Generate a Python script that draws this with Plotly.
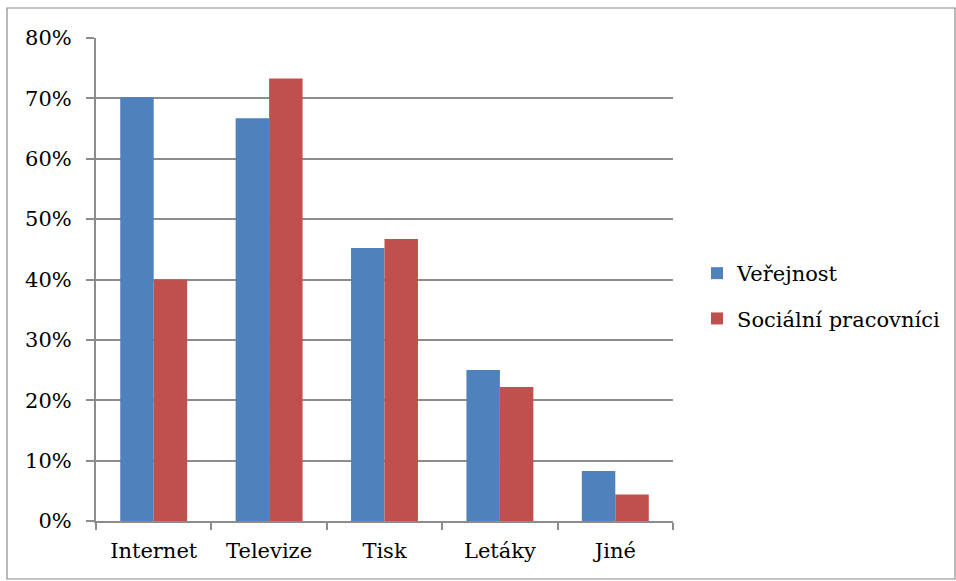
import plotly.graph_objects as go

# Survey answers: where respondents learn about the topic (share of respondents)
categories = ["Internet", "Televize", "Tisk", "Letáky", "Jiné"]
verejnost = [0.702, 0.667, 0.452, 0.250, 0.083]
socialni_pracovnici = [0.400, 0.733, 0.467, 0.222, 0.044]
y_ticks = [0, 0.1, 0.2, 0.3, 0.4, 0.5, 0.6, 0.7, 0.8]
y_tick_labels = ["0%", "10%", "20%", "30%", "40%", "50%", "60%", "70%", "80%"]

W, H = 956, 581
L, R, T, B = 96, 673, 38, 521  # plot area in pixels
GRID = "#8c8c8c"
FONT = dict(family="DejaVu Serif", size=21, color="black")

fig = go.Figure()
fig.add_bar(x=categories, y=verejnost, name="Veřejnost", legendgroup="a",
            marker=dict(color="#4F81BD", line=dict(width=0)))
fig.add_bar(x=categories, y=socialni_pracovnici, name="Sociální pracovníci",
            legendgroup="b", marker=dict(color="#C0504D", line=dict(width=0)))


def px_x(px):
    return (px - L) / (R - L)


def px_y(py):
    return (B - py) / (B - T)


# outer chart border
fig.add_shape(type="rect", xref="paper", yref="paper",
              x0=px_x(7), x1=px_x(955), y0=px_y(579), y1=px_y(8),
              line=dict(color="#8a8a8a", width=1.2), layer="below")

fig.update_layout(
    width=W, height=H,
    margin=dict(l=L, r=W - R, t=T, b=H - B, autoexpand=False),
    paper_bgcolor="white", plot_bgcolor="white",
    font=FONT,
    barmode="group", bargap=0.42, bargroupgap=0,
    showlegend=True,
    legend=dict(x=px_x(697), y=px_y(296), xanchor="left", yanchor="middle",
                font=FONT, bgcolor="rgba(0,0,0,0)", tracegroupgap=15,
                itemwidth=30, itemsizing="constant"),
    xaxis=dict(showgrid=False, showline=True, linecolor=GRID, linewidth=2,
               ticks="outside", tickson="boundaries", ticklen=7,
               tickcolor=GRID, tickwidth=2, tickfont=FONT,
               ticklabelstandoff=10, fixedrange=True),
    yaxis=dict(range=[0, 0.8], tickvals=y_ticks, ticktext=y_tick_labels,
               showgrid=True, gridcolor=GRID, gridwidth=2,
               showline=True, linecolor=GRID, linewidth=2,
               ticks="outside", ticklen=8, tickcolor=GRID, tickwidth=2,
               tickfont=FONT, ticklabelstandoff=10, zeroline=False,
               fixedrange=True),
)

fig.write_html("out.html")
